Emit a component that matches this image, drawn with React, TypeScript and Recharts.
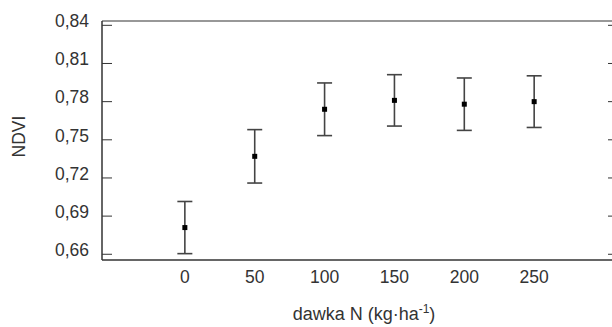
import React from "react";
import { ComposedChart, Scatter, XAxis, YAxis, ErrorBar, ReferenceLine } from "recharts";

const doses = [0, 50, 100, 150, 200, 250];
const ndviMean = [0.681, 0.737, 0.774, 0.781, 0.778, 0.78];
const ndviErr = [0.0205, 0.021, 0.0207, 0.0202, 0.0206, 0.0203];
const yTicks = [0.66, 0.69, 0.72, 0.75, 0.78, 0.81, 0.84];
const xTicks = [0, 50, 100, 150, 200, 250];
const yDomain: [number, number] = [0.6555, 0.8434];
const xDomain: [number, number] = [-59.3, 310];

const data = doses.map((d, i) => ({ dose: d, ndvi: ndviMean[i], err: ndviErr[i] }));

const FONT = "'Liberation Sans', Arial, sans-serif";
const TXT = "#333";

const LeftTick = (props: any) => {
  const { x, y, payload } = props;
  return (
    <g>
      <line x1={x} x2={x + 10} y1={y} y2={y} stroke="#333" strokeWidth={1} />
      <text x={x - 13} y={y + 1.8} textAnchor="end" fontSize={17.5} fontFamily={FONT} fill={TXT}>
        {payload.value.toFixed(2).replace(".", ",")}
      </text>
    </g>
  );
};

const RightTick = (props: any) => {
  const { x, y } = props;
  return <line x1={x - 10} x2={x} y1={y} y2={y} stroke="#333" strokeWidth={1} />;
};

const BottomTick = (props: any) => {
  const { x, y, payload } = props;
  return (
    <text x={x} y={y + 22.5} textAnchor="middle" fontSize={17.5} fontFamily={FONT} fill={TXT}>
      {payload.value}
    </text>
  );
};

const XTitle = (props: any) => {
  const vb = props.viewBox || {};
  const cx = vb.x + vb.width / 2 + 4;
  return (
    <text x={cx} y={vb.y + 59.5} textAnchor="middle" fontSize={18} fontFamily={FONT} fill={TXT}>
      <tspan>dawka N (kg·ha</tspan>
      <tspan fontSize={12} dy={-7}>-1</tspan>
      <tspan dy={7}>)</tspan>
    </text>
  );
};

const YTitle = (props: any) => {
  const vb = props.viewBox || {};
  const cy = vb.y + vb.height / 2 - 4;
  const cx = 19;
  return (
    <text
      x={cx}
      y={cy}
      transform={`rotate(-90, ${cx}, ${cy})`}
      textAnchor="middle"
      dominantBaseline="central"
      fontSize={17.5}
      fontFamily={FONT}
      fill={TXT}
    >
      NDVI
    </text>
  );
};

const Square = (props: any) => {
  const { cx, cy } = props;
  return <rect x={cx - 2.5} y={cy - 2.5} width={5} height={5} fill="#000" />;
};

export default function App() {
  return (
    <div style={{ position: "absolute", left: 0, top: 0, width: 612, height: 327, overflow: "hidden", background: "#fff" }}>
      <ComposedChart width={630} height={327} data={data} margin={{ top: 21, right: 2, bottom: 7, left: 22 }}>
        <XAxis
          dataKey="dose"
          type="number"
          domain={xDomain}
          ticks={xTicks}
          allowDataOverflow
          tickLine={false}
          tickSize={0}
          tickMargin={0}
          tick={<BottomTick />}
          height={60}
          axisLine={{ stroke: "#333", strokeWidth: 1.5 }}
          label={<XTitle />}
        />
        <YAxis
          yAxisId="l"
          type="number"
          domain={yDomain}
          ticks={yTicks}
          allowDataOverflow
          tickLine={false}
          tickSize={0}
          tickMargin={0}
          width={80}
          tick={<LeftTick />}
          axisLine={{ stroke: "#333", strokeWidth: 1.5 }}
          label={<YTitle />}
        />
        <YAxis
          yAxisId="r"
          orientation="right"
          type="number"
          domain={yDomain}
          ticks={yTicks}
          allowDataOverflow
          tickLine={false}
          tickSize={0}
          tickMargin={0}
          width={10}
          tick={<RightTick />}
          axisLine={{ stroke: "#333", strokeWidth: 1 }}
        />
        <ReferenceLine yAxisId="l" y={yDomain[1]} stroke="#333" strokeWidth={1.2} />
        <Scatter yAxisId="l" dataKey="ndvi" shape={<Square />} isAnimationActive={false}>
          <ErrorBar dataKey="err" direction="y" width={7.5} stroke="#444" strokeWidth={1.6} />
        </Scatter>
      </ComposedChart>
    </div>
  );
}
